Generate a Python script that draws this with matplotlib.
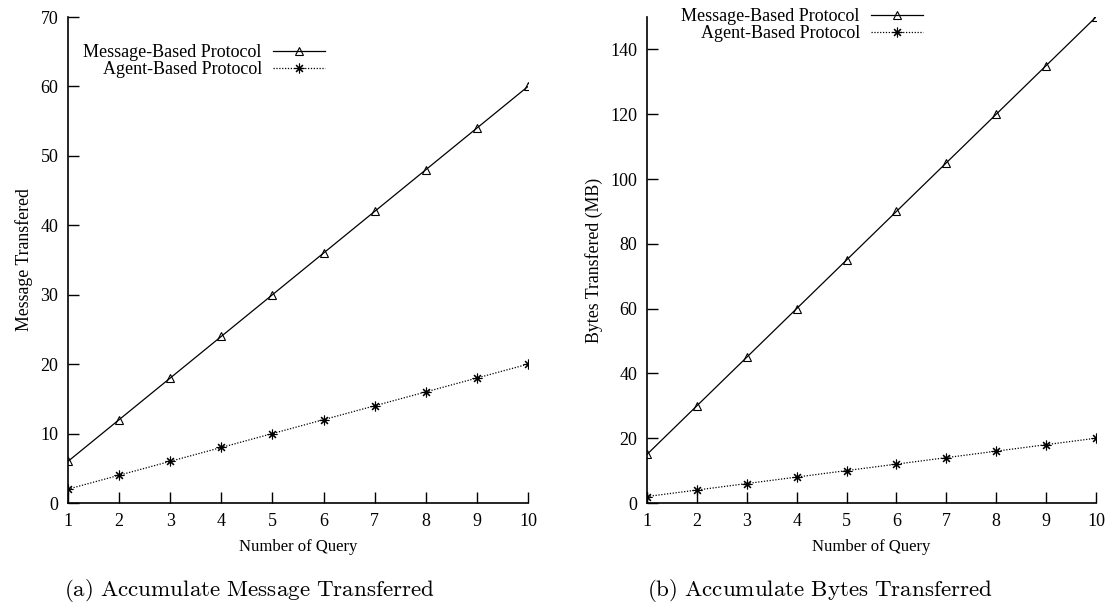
import matplotlib
matplotlib.use("Agg")
import matplotlib.pyplot as plt

queries = [1, 2, 3, 4, 5, 6, 7, 8, 9, 10]
msg_message = [6, 12, 18, 24, 30, 36, 42, 48, 54, 60]
msg_agent = [2, 4, 6, 8, 10, 12, 14, 16, 18, 20]
bytes_message = [15, 30, 45, 60, 75, 90, 105, 120, 135, 150]
bytes_agent = [2, 4, 6, 8, 10, 12, 14, 16, 18, 20]
labels = ["Message-Based Protocol", "Agent-Based Protocol"]

plt.rcParams["font.family"] = ["Liberation Serif", "DejaVu Serif"]
plt.rcParams["mathtext.fontset"] = "cm"

fig = plt.figure(figsize=(11.09, 6.08), dpi=100)
ax1 = fig.add_axes([68 / 1109, 1 - 503 / 608, 460 / 1109, 486 / 608])
ax2 = fig.add_axes([647 / 1109, 1 - 503 / 608, 449 / 1109, 486 / 608])


def style(ax, ylim, yticks, ylabel, legend_anchor):
    ax.plot(queries, ylim[2], color="black", lw=0.9, marker="^", ms=5.5,
            mfc="none", mec="black", mew=0.8, label=labels[0])
    ax.plot(queries, ylim[3], color="black", lw=0.9, ls=(0, (1, 1.3)),
            marker=(8, 2, 0), ms=7, mew=0.8, label=labels[1])
    ax.set_xlim(1, 10)
    ax.set_ylim(ylim[0], ylim[1])
    ax.set_xticks(queries)
    ax.set_yticks(yticks)
    for s in ("top", "right"):
        ax.spines[s].set_visible(False)
    for s in ("left", "bottom"):
        ax.spines[s].set_linewidth(1.2)
    ax.tick_params(direction="in", length=8, width=1.0, labelsize=13, pad=7)
    ax.set_xlabel("Number of Query", fontsize=12, labelpad=7)
    ax.set_ylabel(ylabel, fontsize=12.8, labelpad=5)
    ax.legend(loc="upper right", bbox_to_anchor=legend_anchor, frameon=False,
              markerfirst=False, fontsize=13, handlelength=2.9,
              handletextpad=0.6, labelspacing=0.0, borderaxespad=0,
              borderpad=0)


style(ax1, (0, 70, msg_message, msg_agent), list(range(0, 71, 10)),
      "Message Transfered", ((325 - 68) / 460, 1 - 27 / 486))
style(ax2, (0, 150, bytes_message, bytes_agent), list(range(0, 141, 20)),
      "Bytes Transfered (MB)", ((923 - 647) / 449, 1 + 9 / 486))

fig.text(249 / 1109, 1 - 591 / 608,
         r"$\mathrm{(a)\ Accumulate\ Message\ Transferred}$",
         ha="center", va="center", fontsize=16.6)
fig.text(820 / 1109, 1 - 591 / 608,
         r"$\mathrm{(b)\ Accumulate\ Bytes\ Transferred}$",
         ha="center", va="center", fontsize=16.6)

fig.savefig("out.png", dpi=100, facecolor="white")
